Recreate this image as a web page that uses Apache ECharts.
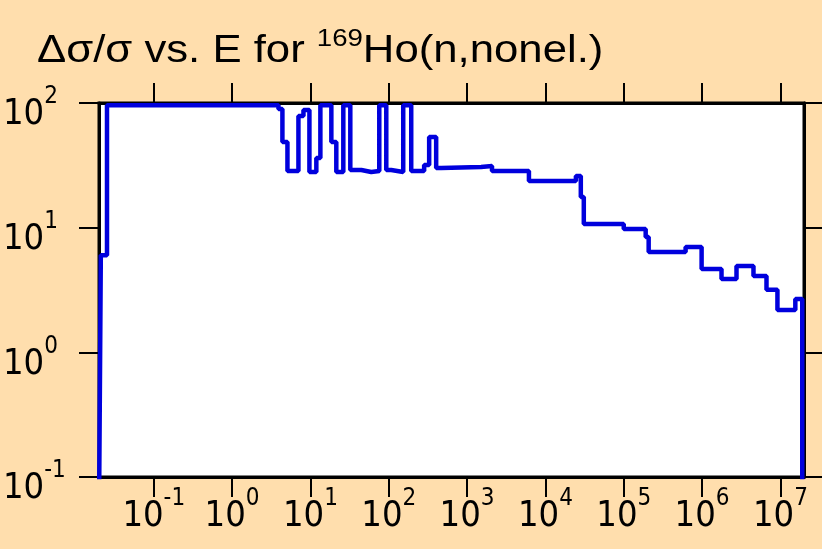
<!DOCTYPE html>
<html>
<head>
<meta charset="utf-8">
<script src="https://cdn.jsdelivr.net/npm/echarts@6/dist/echarts.min.js"></script>
<style>
  html, body { margin: 0; padding: 0; background: #FFDEAD; }
  #chart { width: 822px; height: 549px; }
</style>
</head>
<body>
<div id="chart"></div>
<script>
// Incident neutron energy (eV): start of each constant-uncertainty step
const energy = [0.02, 0.0211, 0.0253, 3.91, 4.39, 5.09, 7.03, 8.15, 9.71, 11.9,
  13.4, 18.5, 21.4, 26.3, 32.3, 44.7, 59.8, 75.7, 93.0, 107.6,
  153, 193.6, 283, 328, 403, 467, 1508, 2080, 6160, 24500,
  28300, 30900, 1.0e5, 1.905e5, 2.08e5, 6.16e5, 9.86e5, 1.77e6, 2.75e6, 4.53e6,
  6.64e6, 9.16e6, 1.55e7, 1.9e7, 2.0e7];

// Relative uncertainty (%) on that step
const relErr = [0.05, 6.0, 96, 89.5, 48.6, 28.5, 78.7, 87.9, 28.0, 36.2,
  96, 48.6, 28.0, 96, 29.0, 28.0, 28.5, 96, 29.0, 28.0,
  96, 28.5, 31.8, 53.4, 30.1, 30.7, 31.2, 28.5, 23.7, 26.0,
  17.6, 10.7, 9.76, 8.42, 6.38, 7.0, 4.67, 3.88, 4.93, 4.10,
  3.17, 2.19, 2.68, 0.05, 0.05];

// Decade tick positions
const xTicks = [1e-1, 1e0, 1e1, 1e2, 1e3, 1e4, 1e5, 1e6, 1e7];
const yTicks = [1e-1, 1e0, 1e1, 1e2];

const FONT = '"Liberation Sans", Arial, sans-serif';
const NARROW = '"Liberation Sans Narrow", "DejaVu Sans Condensed", "Liberation Sans", sans-serif';

function powLabel(v) {
  const e = Math.round(Math.log10(v));
  return '{b|10}{s|' + e + '}';
}

const labelRich = {
  b: { fontFamily: NARROW, fontSize: 36, lineHeight: 36, color: '#000', padding: [12, 0, 0, 0], verticalAlign: 'top' },
  s: { fontFamily: NARROW, fontSize: 24, lineHeight: 24, color: '#000', verticalAlign: 'top' }
};

const tickStyle = { color: '#000', width: 2 };
const frameLine = { show: true, lineStyle: { color: '#000', width: 3 } };

const chart = echarts.init(document.getElementById('chart'), null, { renderer: 'canvas' });

chart.setOption({
  backgroundColor: '#FFDEAD',
  animation: false,
  // Heading with the mass number as a superscript, drawn slightly wide
  graphic: [{
    type: 'text',
    x: 37,
    y: 27,
    scaleX: 1.15,
    style: {
      text: '{a|\u0394\u03c3/\u03c3 vs. E for }{s|169}{a|Ho(n,nonel.)}',
      rich: {
        a: { fontFamily: FONT, fontSize: 38, lineHeight: 44, fill: '#000', verticalAlign: 'bottom' },
        s: { fontFamily: FONT, fontSize: 24, lineHeight: 24, fill: '#000', verticalAlign: 'top' }
      }
    }
  }],
  grid: {
    left: 97, right: 18, top: 103, bottom: 72,
    show: true, backgroundColor: '#fff', borderColor: '#000', borderWidth: 3
  },
  xAxis: [
    {
      type: 'log', logBase: 10, min: 0.02, max: 2e7, position: 'bottom',
      axisLine: frameLine,
      axisTick: { show: true, inside: false, length: 20, lineStyle: tickStyle, customValues: xTicks },
      axisLabel: { show: true, margin: 10, formatter: powLabel, rich: labelRich, customValues: xTicks },
      splitLine: { show: false }, minorTick: { show: false }
    },
    {
      type: 'log', logBase: 10, min: 0.02, max: 2e7, position: 'top',
      axisLine: frameLine,
      axisTick: { show: true, inside: false, length: 20, lineStyle: tickStyle, customValues: xTicks },
      axisLabel: { show: false },
      splitLine: { show: false }
    }
  ],
  yAxis: [
    {
      type: 'log', logBase: 10, min: 0.1, max: 100, position: 'left',
      axisLine: frameLine,
      axisTick: { show: true, inside: false, length: 20, lineStyle: tickStyle, customValues: yTicks },
      axisLabel: { show: true, margin: 96, align: 'left', formatter: powLabel, rich: labelRich, customValues: yTicks },
      splitLine: { show: false }
    },
    {
      type: 'log', logBase: 10, min: 0.1, max: 100, position: 'right',
      axisLine: frameLine,
      axisTick: { show: true, inside: false, length: 20, lineStyle: tickStyle, customValues: yTicks },
      axisLabel: { show: false },
      splitLine: { show: false }
    }
  ],
  series: [{
    type: 'line',
    xAxisIndex: 0,
    yAxisIndex: 0,
    step: 'end',
    showSymbol: false,
    clip: true,
    lineStyle: { color: '#0000DD', width: 4.5 },
    data: energy.map((e, i) => [e, relErr[i]])
  }]
});
</script>
</body>
</html>
